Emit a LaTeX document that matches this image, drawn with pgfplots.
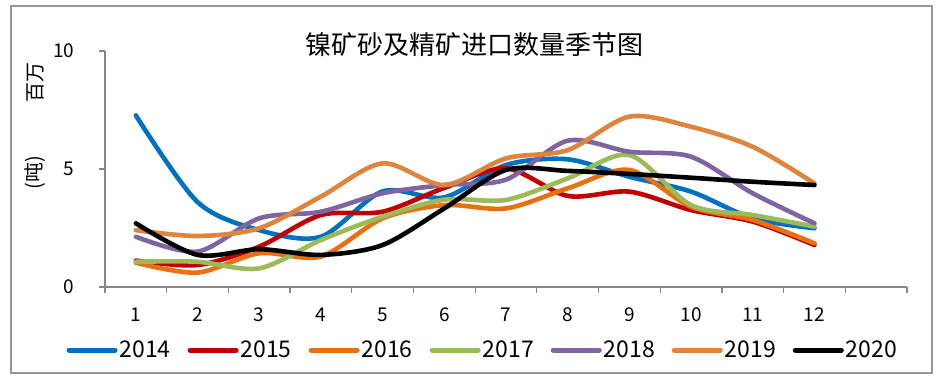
\documentclass[border=0pt]{standalone}
\usepackage{fontspec}
\setmainfont{Noto Sans CJK SC}
\usepackage{pgfplots}
\pgfplotsset{compat=1.18}
\definecolor{c14}{RGB}{0,112,192}
\definecolor{c15}{RGB}{192,0,0}
\definecolor{c16}{RGB}{232,112,16}
\definecolor{c17}{RGB}{155,187,89}
\definecolor{c18}{RGB}{128,100,162}
\definecolor{c19}{RGB}{221,132,61}
\definecolor{axgray}{RGB}{134,134,134}
\definecolor{framegray}{RGB}{150,150,150}
\begin{document}
\begin{tikzpicture}
\useasboundingbox (-105bp,-96bp) rectangle (837bp,287bp);
\draw[framegray, line width=1.5bp] (-94bp,-86bp) rectangle (827bp,281bp);
\begin{axis}[
  at={(0,0)}, anchor=south west,
  scale only axis, width=802bp, height=236bp,
  xmin=0.5, xmax=13.5, ymin=0, ymax=10,
  axis x line*=bottom, axis y line*=left,
  axis line style={axgray, line width=1.2bp, -},
  xtick={1,...,12}, ytick={0,5,10},
  minor xtick={0.5,1.5,...,13.5},
  tick align=outside, major tick length=6bp, minor tick length=6bp,
  tick style={axgray, line width=1.2bp},
  major x tick style={draw=none},
  /pgf/number format/assume math mode=true,
  xticklabel style={font=\fontsize{19bp}{22bp}\selectfont, yshift=-11bp},
  yticklabel style={font=\fontsize{19bp}{22bp}\selectfont, xshift=-21bp},
  legend columns=7,
  legend style={draw=none, fill=none, at={(0.471,0)}, anchor=center, yshift=-63bp,
    font=\fontsize{23bp}{27bp}\selectfont,
    /tikz/every even column/.append style={column sep=15bp}},
  legend image code/.code={\draw[#1, line width=5bp, line cap=round] (0bp,0bp) -- (46bp,0bp);},
  every axis plot/.append style={line width=4.6bp, smooth, line cap=round, line join=round},
]
\addplot[c14] coordinates {(1,7.27)(2,3.6)(3,2.41)(4,2.13)(5,4.05)(6,3.8)(7,5.17)(8,5.41)(9,4.67)(10,4.04)(11,2.91)(12,2.49)};
\addlegendentry{2014}
\addplot[c15] coordinates {(1,1.12)(2,0.93)(3,1.71)(4,3.05)(5,3.19)(6,4.2)(7,5.03)(8,3.86)(9,4.04)(10,3.26)(11,2.77)(12,1.78)};
\addlegendentry{2015}
\addplot[c16] coordinates {(1,1.03)(2,0.61)(3,1.43)(4,1.29)(5,2.91)(6,3.47)(7,3.33)(8,4.18)(9,4.96)(10,3.40)(11,2.84)(12,1.85)};
\addlegendentry{2016}
\addplot[c17] coordinates {(1,1.07)(2,1.07)(3,0.79)(4,1.99)(5,2.98)(6,3.7)(7,3.69)(8,4.6)(9,5.59)(10,3.47)(11,3.05)(12,2.56)};
\addlegendentry{2017}
\addplot[c18] coordinates {(1,2.13)(2,1.5)(3,2.91)(4,3.19)(5,3.97)(6,4.32)(7,4.55)(8,6.2)(9,5.73)(10,5.52)(11,3.97)(12,2.7)};
\addlegendentry{2018}
\addplot[c19] coordinates {(1,2.41)(2,2.16)(3,2.49)(4,3.83)(5,5.24)(6,4.32)(7,5.45)(8,5.8)(9,7.22)(10,6.79)(11,5.94)(12,4.39)};
\addlegendentry{2019}
\addplot[black] coordinates {(1,2.7)(2,1.36)(3,1.6)(4,1.36)(5,1.78)(6,3.33)(7,4.96)(8,4.92)(9,4.79)(10,4.63)(11,4.46)(12,4.32)};
\addlegendentry{2020}
\end{axis}
\node[font=\fontsize{26bp}{30bp}\selectfont] at (369bp,242bp) {镍矿砂及精矿进口数量季节图};
\node[rotate=90, font=\fontsize{20bp}{24bp}\selectfont] at (-70bp,204bp) {百万};
\node[rotate=90, font=\fontsize{20bp}{24bp}\selectfont] at (-70bp,114bp) {(吨)};
\end{tikzpicture}
\end{document}
